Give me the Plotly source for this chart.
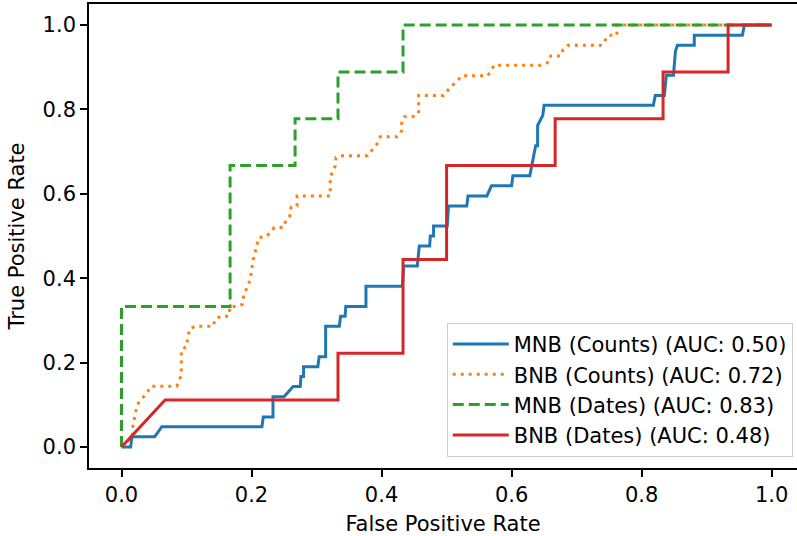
import plotly.graph_objects as go

# MNB (Counts)
mnb_counts_fpr = [0, 0.014, 0.016, 0.051, 0.062, 0.216, 0.218, 0.233, 0.233, 0.25, 0.264, 0.275, 0.276, 0.280, 0.280,
                  0.302, 0.304, 0.314, 0.314, 0.335, 0.337, 0.344, 0.345, 0.376, 0.376, 0.432, 0.434, 0.455, 0.458,
                  0.474, 0.475, 0.480, 0.480, 0.501, 0.503, 0.531, 0.533, 0.562, 0.569, 0.600, 0.602, 0.628, 0.634,
                  0.637, 0.640, 0.640, 0.648, 0.650, 0.818, 0.821, 0.835, 0.838, 0.849, 0.852, 0.855, 0.881, 0.881,
                  0.955, 0.958, 1.0]
mnb_counts_tpr = [0, 0, 0.024, 0.024, 0.048, 0.048, 0.071, 0.071, 0.119, 0.119, 0.143, 0.143, 0.167, 0.167, 0.190,
                  0.190, 0.214, 0.214, 0.286, 0.286, 0.310, 0.310, 0.333, 0.333, 0.381, 0.381, 0.429, 0.429, 0.476,
                  0.476, 0.500, 0.500, 0.524, 0.524, 0.571, 0.571, 0.595, 0.595, 0.619, 0.619, 0.643, 0.643, 0.690,
                  0.714, 0.714, 0.762, 0.786, 0.810, 0.810, 0.833, 0.833, 0.881, 0.881, 0.938, 0.952, 0.952, 0.976,
                  0.976, 1.0, 1.0]

# BNB (Counts)
bnb_counts_fpr = [0, 0.017, 0.017, 0.022, 0.026, 0.040, 0.045, 0.085, 0.092, 0.092, 0.092, 0.100, 0.102, 0.105, 0.113,
                  0.141, 0.144, 0.153, 0.165, 0.167, 0.178, 0.186, 0.188, 0.196, 0.199, 0.202, 0.205, 0.208, 0.211,
                  0.224, 0.235, 0.249, 0.253, 0.259, 0.261, 0.270, 0.270, 0.321, 0.321, 0.321, 0.324, 0.329, 0.330,
                  0.340, 0.378, 0.393, 0.398, 0.424, 0.431, 0.431, 0.435, 0.448, 0.457, 0.457, 0.457, 0.495, 0.502,
                  0.508, 0.517, 0.523, 0.563, 0.569, 0.573, 0.645, 0.657, 0.660, 0.676, 0.679, 0.687, 0.739, 0.744,
                  0.749, 0.762, 0.762, 1.0]
bnb_counts_tpr = [0, 0.024, 0.045, 0.085, 0.104, 0.130, 0.144, 0.144, 0.170, 0.210, 0.230, 0.238, 0.260, 0.280, 0.286,
                  0.286, 0.303, 0.310, 0.310, 0.333, 0.333, 0.338, 0.360, 0.388, 0.407, 0.440, 0.458, 0.477, 0.496,
                  0.500, 0.520, 0.520, 0.537, 0.548, 0.568, 0.571, 0.595, 0.595, 0.617, 0.638, 0.650, 0.667, 0.686,
                  0.690, 0.690, 0.718, 0.735, 0.735, 0.750, 0.768, 0.783, 0.783, 0.790, 0.810, 0.833, 0.833, 0.846,
                  0.856, 0.868, 0.880, 0.880, 0.893, 0.905, 0.905, 0.912, 0.927, 0.927, 0.941, 0.952, 0.952, 0.964,
                  0.976, 0.976, 1.0, 1.0]

# MNB (Dates)
mnb_dates_fpr = [0, 0, 0.167, 0.167, 0.267, 0.267, 0.333, 0.333, 0.433, 0.433, 1.0]
mnb_dates_tpr = [0, 0.333, 0.333, 0.667, 0.667, 0.778, 0.778, 0.889, 0.889, 1.0, 1.0]

# BNB (Dates)
bnb_dates_fpr = [0, 0.067, 0.333, 0.333, 0.433, 0.433, 0.5, 0.5, 0.667, 0.667, 0.833, 0.833, 0.933, 0.933, 1.0]
bnb_dates_tpr = [0, 0.111, 0.111, 0.222, 0.222, 0.444, 0.444, 0.667, 0.667, 0.778, 0.778, 0.889, 0.889, 1.0, 1.0]

names = ["MNB (Counts) (AUC: 0.50)", "BNB (Counts) (AUC: 0.72)",
         "MNB (Dates) (AUC: 0.83)", "BNB (Dates) (AUC: 0.48)"]
colors = ["#1f77b4", "#ff7f0e", "#2ca02c", "#d62728"]
dashes = ["solid", "3px,5px", "11px,5px", "solid"]
xs = [mnb_counts_fpr, bnb_counts_fpr, mnb_dates_fpr, bnb_dates_fpr]
ys = [mnb_counts_tpr, bnb_counts_tpr, mnb_dates_tpr, bnb_dates_tpr]

x_ticks = [0.0, 0.2, 0.4, 0.6, 0.8, 1.0]
y_ticks = [0.0, 0.2, 0.4, 0.6, 0.8, 1.0]

fig = go.Figure()
for x, y, n, c, d in zip(xs, ys, names, colors, dashes):
    fig.add_trace(go.Scatter(x=x, y=y, mode="lines", name=n,
                             line=dict(color=c, width=3, dash=d)))

font = dict(family="DejaVu Sans", size=21, color="black")
fig.update_layout(
    width=797, height=536,
    margin=dict(l=89, r=0, t=4, b=68),
    paper_bgcolor="white", plot_bgcolor="white",
    font=font,
    showlegend=True,
    legend=dict(x=0.994, y=0.024, xanchor="right", yanchor="bottom",
                bgcolor="rgba(255,255,255,0.8)", bordercolor="#cccccc", borderwidth=1,
                font=font, tracegroupgap=0, itemwidth=56),
)
fig.update_xaxes(range=[-0.05, 1.039], tickvals=x_ticks, ticktext=[f"{v:.1f}" for v in x_ticks],
                 showgrid=False, zeroline=False, showline=True, linecolor="black", linewidth=1.6,
                 mirror=True, ticks="outside", ticklen=7, tickwidth=1.6, tickcolor="black",
                 title=dict(text="False Positive Rate", standoff=12, font=font), automargin=False)
fig.update_yaxes(range=[-0.05, 1.05], tickvals=y_ticks, ticktext=[f"{v:.1f}" for v in y_ticks],
                 showgrid=False, zeroline=False, showline=True, linecolor="black", linewidth=1.6,
                 mirror=False, ticks="outside", ticklen=7, tickwidth=1.6, tickcolor="black",
                 title=dict(text="True Positive Rate", standoff=12, font=font), automargin=False)

fig.write_html("out.html")
